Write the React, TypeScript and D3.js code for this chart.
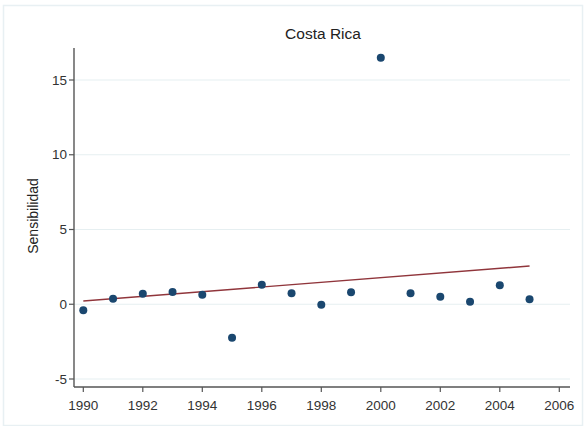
import React from "react";
import * as d3 from "d3";

const years = [1990,1991,1992,1993,1994,1995,1996,1997,1998,1999,2000,2001,2002,2003,2004,2005];
const values = [-0.4,0.37,0.71,0.82,0.64,-2.24,1.31,0.74,-0.03,0.8,16.48,0.74,0.51,0.17,1.27,0.33];
const xTicks = [1990,1992,1994,1996,1998,2000,2002,2004,2006];
const yTicks = [-5,0,5,10,15];
const title = "Costa Rica";
const yLabel = "Sensibilidad";

export default function App() {
  const W = 587, H = 426;
  const x = d3.scaleLinear().domain([1990, 2006]).range([83.3, 559.3]);
  const y = d3.scaleLinear().domain([-5, 15]).range([379, 80]);
  const xMin = x.invert(74), xMax = x.invert(570);
  const yTop = y.invert(48), yBot = y.invert(387);

  const mx = d3.mean(years)!;
  const my = d3.mean(values)!;
  const slope = d3.sum(years.map((v, i) => (v - mx) * (values[i] - my))) / d3.sum(years.map(v => (v - mx) ** 2));
  const fit = (t: number) => my + slope * (t - mx);
  const x0 = years[0], x1 = years[years.length - 1];
  const line = d3.line<number>().x(d => x(d)).y(d => y(fit(d)));

  const font = "Arial, 'Liberation Sans', sans-serif";
  return (
    <svg width={W} height={H} style={{ position: "absolute", left: 0, top: 0 }} fontFamily={font}>
      <rect x={0} y={0} width={W} height={H} fill="#ffffff" />
      <rect x={3.5} y={5.5} width={579} height={420} fill="#ffffff" stroke="#e8f0f3" strokeWidth={1.5} />
      {yTicks.map(t => (
        <line key={"g" + t} x1={x(xMin)} x2={x(xMax)} y1={y(t)} y2={y(t)} stroke="#e6eff1" strokeWidth={1.2} />
      ))}
      <text x={323} y={39} textAnchor="middle" fontSize={15.5} fill="#222">{title}</text>
      <line x1={x(xMin)} x2={x(xMin)} y1={y(yTop)} y2={y(yBot)} stroke="#555" strokeWidth={1.4} />
      <line x1={x(xMin)} x2={x(xMax)} y1={y(yBot)} y2={y(yBot)} stroke="#555" strokeWidth={1.4} />
      {yTicks.map(t => (
        <g key={"y" + t}>
          <line x1={x(xMin) - 5} x2={x(xMin)} y1={y(t)} y2={y(t)} stroke="#555" strokeWidth={1.2} />
          <text x={x(xMin) - 7} y={y(t)} dy="0.35em" textAnchor="end" fontSize={13.5} fill="#333">{t}</text>
        </g>
      ))}
      {xTicks.map(t => (
        <g key={"x" + t}>
          <line x1={x(t)} x2={x(t)} y1={y(yBot)} y2={y(yBot) + 5} stroke="#555" strokeWidth={1.2} />
          <text x={x(t)} y={y(yBot) + 18} dy="0.35em" textAnchor="middle" fontSize={13.5} fill="#333">{t}</text>
        </g>
      ))}
      <text transform={`translate(33,${216}) rotate(-90)`} dy="0.35em" textAnchor="middle" fontSize={14} fill="#222">{yLabel}</text>
      <path d={line([x0, x1]) || ""} fill="none" stroke="#90353b" strokeWidth={1.4} />
      {years.map((yr, i) => (
        <circle key={yr} cx={x(yr)} cy={y(values[i])} r={4} fill="#1a476f" />
      ))}
    </svg>
  );
}
